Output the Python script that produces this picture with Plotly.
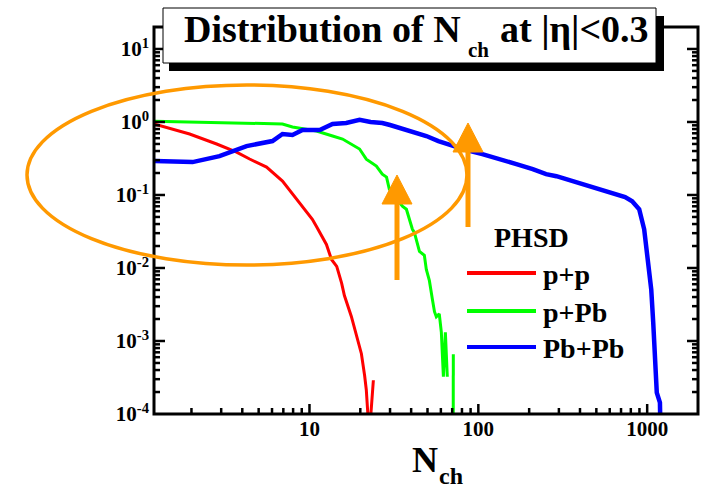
import math
import plotly.graph_objects as go

# ---- charged-particle multiplicity distributions, PHSD, |eta| < 0.3 ----
# empty bins are drawn just below the plotted range so the curve drops to the axis
EMPTY = 5e-5

pp_nch = [1.2, 1.95, 2.82, 3.7, 4.42, 5.57, 6.92, 8.73, 10.4, 11.0, 12.6, 13.5,
          14.5, 15.5, 16.1, 17.7, 19.2, 20.3, 21.2, 21.7, 22.6, 23.9]
pp_prob = [0.94, 0.684, 0.499, 0.387, 0.311, 0.241, 0.155, 0.0796, 0.0465, 0.037,
           0.021, 0.0131, 0.0105, 0.0062, 0.0042, 0.00217, 0.00105, 0.00067,
           0.00034, 0.000215, EMPTY, 0.00029]

ppb_nch = [1.2, 2.0, 4.0, 6.92, 7.93, 11.0, 13.7, 15.7, 19.8, 21.7, 24.9, 27.0,
           28.6, 29.7, 35.5, 37.5, 40.7, 41.8, 44.8, 47.9, 49.2, 51.3, 53.5, 55.0,
           56.4, 58.7, 60.4, 61.2, 62.1, 63.8, 65.5, None, 71.0, 71.1]
ppb_prob = [1.02, 1.0, 0.98, 0.94, 0.854, 0.752, 0.642, 0.584, 0.426, 0.31, 0.249,
            0.193, 0.176, 0.12, 0.0704, 0.0638, 0.0339, 0.0308, 0.0169, 0.0149,
            0.00954, 0.0067, 0.00366, 0.00252, 0.00215, 0.00235, 0.00131, 0.000771,
            0.000324, 0.00131, 0.000324, None, EMPTY, 0.000658]

pbpb_nch = [1.21, 2.03, 2.93, 4.24, 6.04, 6.92, 7.93, 9.09, 11.5, 13.7, 16.5, 19.8,
            23.0, 27.0, 30.0, 34.1, 40.0, 49.2, 58.0, 67.4, 85.0, 105.6, 130.0,
            168.0, 210.0, 252.0, 290.0, 360.0, 454.0, 550.0, 656.0, 740.0, 815.0,
            897.0, 960.0, 1000.0, 1057.0, 1086.0, 1115.0, 1130.0, 1140.0, 1190.0,
            1200.0]
pbpb_prob = [0.291, 0.282, 0.341, 0.468, 0.548, 0.684, 0.663, 0.776, 0.776, 0.939,
             0.969, 1.07, 1.0, 0.969, 0.909, 0.827, 0.752, 0.642, 0.548, 0.483,
             0.412, 0.363, 0.32, 0.265, 0.226, 0.193, 0.181, 0.155, 0.132, 0.116,
             0.1026, 0.0934, 0.0822, 0.0638, 0.0339, 0.0144, 0.00508, 0.00179,
             0.000611, 0.000215, 0.000196, 0.000143, EMPTY]

series_names = ["p+p", "p+Pb", "Pb+Pb"]
series_colors = ["#FF0000", "#00FF00", "#0000FF"]
series_widths = [3, 3, 4.5]

x_tick_vals = [10, 100, 1000]
x_tick_text = ["10", "100", "1000"]
y_tick_vals = [1e-4, 1e-3, 1e-2, 1e-1, 1e0, 1e1]
y_tick_text = ["10<sup>-4</sup>", "10<sup>-3</sup>", "10<sup>-2</sup>",
               "10<sup>-1</sup>", "10<sup>0</sup>", "10<sup>1</sup>"]

SERIF = "Liberation Serif"
ORANGE = "#FF9900"
X_RANGE = [0.0792, 3.301]
Y_RANGE = [-4, 1.301]

# page geometry (pixels) of the plotting frame
W_PAGE, H_PAGE = 708, 491
L, R, T, B = 154, 698, 27, 414
PW, PH = R - L, B - T


def px_x(p):
    return (p - L) / PW


def px_y(p):
    return (B - p) / PH


def log_frac(v, rng):
    return (math.log10(v) - rng[0]) / (rng[1] - rng[0])


fig = go.Figure()
data = [(pp_nch, pp_prob), (ppb_nch, ppb_prob), (pbpb_nch, pbpb_prob)]
for (xs, ys), name, col, w in zip(data, series_names, series_colors, series_widths):
    fig.add_trace(go.Scatter(x=xs, y=ys, mode="lines", name=name,
                             line=dict(color=col, width=w),
                             connectgaps=False, showlegend=False,
                             hoverinfo="skip"))

label_font = dict(family=SERIF, size=21, color="black", weight="bold")
fig.update_xaxes(type="log", range=X_RANGE, tickmode="array",
                 tickvals=x_tick_vals, ticktext=x_tick_text, ticks="",
                 showline=False, showgrid=False, zeroline=False,
                 tickfont=label_font)
fig.update_yaxes(type="log", range=Y_RANGE, tickmode="array",
                 tickvals=y_tick_vals, ticktext=y_tick_text, ticks="",
                 ticklabelstandoff=4,
                 showline=False, showgrid=False, zeroline=False,
                 tickfont=label_font)

shapes = []


def seg(x0, y0, x1, y1, color="black", width=2.5):
    shapes.append(dict(type="line", xref="paper", yref="paper",
                       x0=x0, y0=y0, x1=x1, y1=y1,
                       line=dict(color=color, width=width), layer="above"))


# frame with inward ticks on all four sides (long at decades, short between)
shapes.append(dict(type="rect", xref="paper", yref="paper", x0=0, x1=1, y0=0, y1=1,
                   line=dict(color="black", width=3), layer="above"))
for e in range(0, 4):
    for m in range(1, 10):
        v = m * 10 ** e
        f = log_frac(v, X_RANGE)
        if 0.001 < f < 0.999:
            ln = (10 if m == 1 else 6) / PH
            seg(f, 0, f, ln)
            seg(f, 1, f, 1 - ln)
for e in range(-4, 2):
    for m in range(1, 10):
        v = m * 10.0 ** e
        f = log_frac(v, Y_RANGE)
        if 0.001 < f < 0.999:
            ln = (11 if m == 1 else 6) / PW
            seg(0, f, ln, f)
            seg(1, f, 1 - ln, f)

# highlighted low-multiplicity region
shapes.append(dict(type="circle", xref="paper", yref="paper",
                   x0=px_x(27), x1=px_x(467), y0=px_y(265), y1=px_y(85),
                   line=dict(color=ORANGE, width=3.5), layer="above"))
# arrows
for sx, bottom, base, tip in [(397, 280, 204, 175), (468, 227, 152, 123)]:
    seg(px_x(sx), px_y(bottom), px_x(sx), px_y(base), color=ORANGE, width=5)
    path = "M {a},{b} L {c},{b} L {d},{e} Z".format(
        a=px_x(sx - 15), c=px_x(sx + 15), b=px_y(base), d=px_x(sx), e=px_y(tip))
    shapes.append(dict(type="path", xref="paper", yref="paper", path=path,
                       fillcolor=ORANGE, line=dict(color=ORANGE, width=1),
                       layer="above"))
# title box with drop shadow
shapes.append(dict(type="rect", xref="paper", yref="paper",
                   x0=px_x(169), x1=px_x(664), y0=px_y(71), y1=px_y(16),
                   fillcolor="black", line=dict(color="black", width=0),
                   layer="above"))
shapes.append(dict(type="rect", xref="paper", yref="paper",
                   x0=px_x(163), x1=px_x(656), y0=px_y(63), y1=px_y(8),
                   fillcolor="white", line=dict(color="black", width=1),
                   layer="above"))
# legend lines
legend_rows = [273, 311, 347]
for y, col in zip(legend_rows, series_colors):
    seg(px_x(467), px_y(y), px_x(536), px_y(y), color=col, width=4)

annotations = []


def label(text, x, y, size, xanchor="center", yanchor="middle"):
    annotations.append(dict(text=text, xref="paper", yref="paper",
                            x=px_x(x), y=px_y(y), xanchor=xanchor,
                            yanchor=yanchor, showarrow=False,
                            font=dict(family=SERIF, size=size, color="black",
                                      weight="bold")))


# title
label("Distribution of N", 463, 29.5, 38, xanchor="right")
label("ch", 466, 50, 21, xanchor="left")
label("at |η|<0.3", 498, 29.5, 38, xanchor="left")
# x-axis title
label("N", 425, 460, 36)
label("ch", 437, 491, 24, xanchor="left", yanchor="bottom")
# legend
label("PHSD", 531, 237, 28)
for y, name in zip(legend_rows, series_names):
    label(name, 541, y + 1, 28, xanchor="left")

fig.update_layout(width=W_PAGE, height=H_PAGE,
                  margin=dict(l=L, r=W_PAGE - R, t=T, b=H_PAGE - B),
                  paper_bgcolor="white", plot_bgcolor="white",
                  showlegend=False, shapes=shapes, annotations=annotations)

fig.write_html("out.html")
